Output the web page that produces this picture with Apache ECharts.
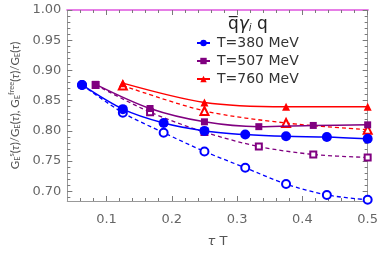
<!DOCTYPE html>
<html><head><meta charset="utf-8">
<script src="https://cdn.jsdelivr.net/npm/echarts@6/dist/echarts.min.js"></script>
<style>html,body{margin:0;padding:0;background:#fff}#c{width:381px;height:253px}</style>
</head><body><div id="c"></div>
<script>
var x16 = [0.0625,0.125,0.1875,0.25,0.3125,0.375,0.4375,0.5];
var blueFilled = [0.876,0.836,0.813,0.800,0.794,0.791,0.790,0.787];
var blueOpen = [0.876,0.830,0.797,0.766,0.739,0.712,0.694,0.686];
var x12 = [0.0833,0.1667,0.25,0.3333,0.4167,0.5];
var purpleFilled = [0.877,0.837,0.815,0.807,0.809,0.810];
var purpleOpen = [0.876,0.831,0.798,0.774,0.761,0.756];
var x8 = [0.125,0.25,0.375,0.5];
var redFilled = [0.879,0.847,0.840,0.840];
var redOpen = [0.875,0.833,0.813,0.802];
var legendNames = ['T=380 MeV','T=507 MeV','T=760 MeV'];
var xTicks = [0.1,0.2,0.3,0.4,0.5];
var yTicks = [0.70,0.75,0.80,0.85,0.90,0.95,1.00];

function pairs(xs, ys){ return xs.map(function(x,i){return [x, ys[i]];}); }
var xMinor = [], yMinor = [];
for (var i = 3; i <= 25; i++) xMinor.push(+(i*0.02).toFixed(2));
for (var j = 69; j <= 100; j++) yMinor.push(+(j*0.01).toFixed(2));

var GRAY = '#7a7a7a';
var XMIN = 0.04, XMAX = 0.5, YMIN = 0.684, YMAX = 1.0;
function xa(opt){ return Object.assign({type:'value', min:XMIN, max:XMAX, splitLine:{show:false},
  axisLine:{show:false}, axisLabel:{show:false}, axisTick:{show:false}}, opt); }
function ya(opt){ return Object.assign({type:'value', min:YMIN, max:YMAX, splitLine:{show:false},
  axisLine:{show:false}, axisLabel:{show:false}, axisTick:{show:false}}, opt); }

var chart = echarts.init(document.getElementById('c'));
var solid = function(c){ return {color:c, width:1.5}; };
var dashed = function(c){ return {color:c, width:1.3, type:[4,3]}; };

chart.setOption({
  animation:false,
  textStyle:{fontFamily:'DejaVu Sans'},
  grid:{left:54, right:11, top:10, bottom:49},
  legend:{
    orient:'vertical', left:196, top:36, padding:0, itemWidth:13, itemHeight:8, itemGap:4,
    data:legendNames,
    textStyle:{fontSize:14, color:'#333', fontFamily:'DejaVu Sans', padding:[0,0,0,2]}
  },
  graphic:[{
    type:'text', left:228, top:16,
    style:{
      text:'{a|q\u0305}{g|\u03B3}{s|i}{a| q}',
      rich:{
        a:{fontSize:17, fill:'#222', fontFamily:'DejaVu Sans'},
        g:{fontSize:17, fill:'#222', fontStyle:'italic', fontFamily:'DejaVu Sans'},
        s:{fontSize:10, fill:'#222', fontStyle:'italic', padding:[7,0,0,0], fontFamily:'DejaVu Sans'}
      }
    }
  }],
  xAxis:[
    xa({position:'bottom', name:'{t|\u03C4} T', nameLocation:'middle', nameGap:34,
        nameTextStyle:{fontSize:13, color:'#555', rich:{t:{fontStyle:'italic', fontSize:13, color:'#555'}}},
        axisLine:{show:true, onZero:false, lineStyle:{color:'#999', width:1}},
        axisTick:{show:true, inside:true, length:5, customValues:xTicks, lineStyle:{color:GRAY, width:1}},
        axisLabel:{show:true, customValues:xTicks, fontSize:13, color:'#666', margin:12,
          formatter:function(v){return v.toFixed(1);} }}),
    xa({position:'bottom', axisLine:{show:true, onZero:false, lineStyle:{color:'#999', width:1}},
        axisTick:{show:true, inside:true, length:3, customValues:xMinor, lineStyle:{color:GRAY, width:1}}}),
    xa({position:'top',
        axisLine:{show:true, onZero:false, lineStyle:{color:'#e67ee6', width:2}},
        axisTick:{show:true, inside:true, length:5, customValues:xTicks, lineStyle:{color:GRAY, width:1}}}),
    xa({position:'top', axisLine:{show:true, onZero:false, lineStyle:{color:'#e67ee6', width:2}},
        axisTick:{show:true, inside:true, length:3, customValues:xMinor, lineStyle:{color:GRAY, width:1}}})
  ],
  yAxis:[
    ya({position:'left',
        name:'{g|G}{b|E}{p|s}{g|(}{i|\u03C4}{g|)/G}{b|E}{g|(}{i|\u03C4}{g|), G}{b|E}{p|free}{g|(}{i|\u03C4}{g|)/G}{b|E}{g|(}{i|\u03C4}{g|)}',
        nameLocation:'middle', nameGap:38, nameRotate:90,
        nameTextStyle:{color:'#555', fontFamily:'Lato', rich:{
          g:{fontSize:11.5, color:'#555', fontFamily:'Lato'},
          i:{fontSize:11.5, color:'#555', fontStyle:'italic', fontFamily:'Lato'},
          b:{fontSize:7.5, color:'#555', padding:[5,0,0,0], fontFamily:'Lato'},
          p:{fontSize:7.5, color:'#555', padding:[0,0,6,0], fontFamily:'Lato'}
        }},
        axisLine:{show:true, onZero:false, lineStyle:{color:'#999', width:1}},
        axisTick:{show:true, inside:true, length:5, customValues:yTicks, lineStyle:{color:GRAY, width:1}},
        axisLabel:{show:true, customValues:yTicks, fontSize:13, color:'#666', margin:6,
          formatter:function(v){return v.toFixed(2);} }}),
    ya({position:'left', axisLine:{show:true, onZero:false, lineStyle:{color:'#999', width:1}},
        axisTick:{show:true, inside:true, length:3, customValues:yMinor, lineStyle:{color:GRAY, width:1}}}),
    ya({position:'right',
        axisLine:{show:true, onZero:false, lineStyle:{color:'#999', width:1}},
        axisTick:{show:true, inside:true, length:5, customValues:yTicks, lineStyle:{color:GRAY, width:1}}}),
    ya({position:'right', axisLine:{show:true, onZero:false, lineStyle:{color:'#999', width:1}},
        axisTick:{show:true, inside:true, length:3, customValues:yMinor, lineStyle:{color:GRAY, width:1}}})
  ],
  series:[
    {type:'line', name:'open380', data:pairs(x16, blueOpen), smooth:0.3, symbol:'emptyCircle', symbolSize:8,
      lineStyle:dashed('#0000ff'), itemStyle:{color:'#0000ff', borderWidth:1}, z:3},
    {type:'line', name:'open507', data:pairs(x12, purpleOpen), smooth:0.3, symbol:'emptyRect', symbolSize:6,
      lineStyle:dashed('#800080'), itemStyle:{color:'#800080', borderWidth:1}, z:3},
    {type:'line', name:'open760', data:pairs(x8, redOpen), smooth:0.3, symbol:'emptyTriangle', symbolSize:8,
      lineStyle:dashed('#ff0000'), itemStyle:{color:'#ff0000', borderWidth:1}, z:3},
    {type:'line', name:legendNames[0], data:pairs(x16, blueFilled), smooth:0.3, symbol:'circle', symbolSize:10,
      lineStyle:solid('#0000ff'), itemStyle:{color:'#0000ff'}, z:4},
    {type:'line', name:legendNames[1], data:pairs(x12, purpleFilled), smooth:0.3, symbol:'rect', symbolSize:7,
      lineStyle:solid('#800080'), itemStyle:{color:'#800080'}, z:4},
    {type:'line', name:legendNames[2], data:pairs(x8, redFilled), smooth:0.3, symbol:'triangle', symbolSize:8,
      lineStyle:solid('#ff0000'), itemStyle:{color:'#ff0000'}, z:4}
  ]
});
</script></body></html>
